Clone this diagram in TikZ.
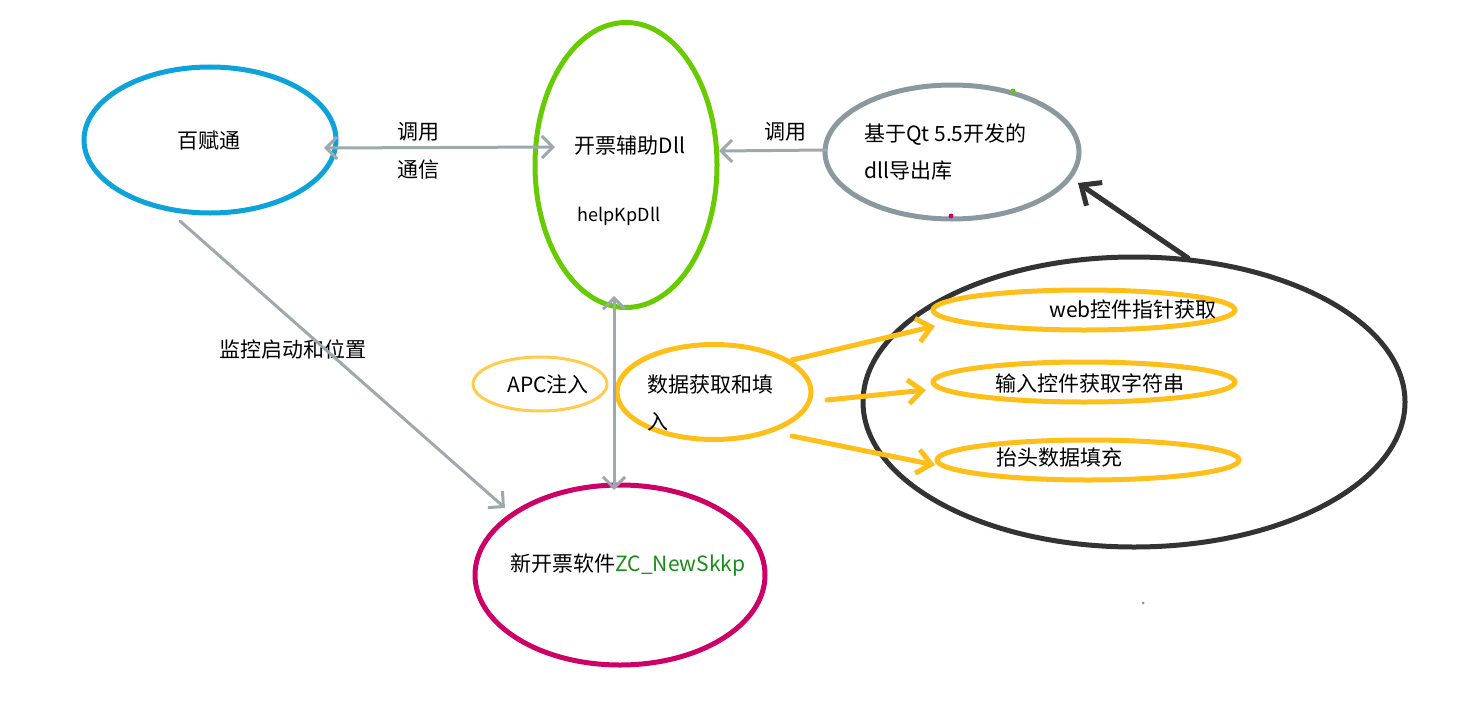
\documentclass[tikz,border=0pt]{standalone}
\usepackage{fontspec}
\setmainfont{Noto Sans CJK SC}
\usetikzlibrary{shapes.geometric,arrows.meta}
\definecolor{cblue}{HTML}{0BA3D9}
\definecolor{cgreen}{HTML}{66CC00}
\definecolor{cgray}{HTML}{8A999F}
\definecolor{cgrayarr}{HTML}{9EA9AD}
\definecolor{cblack}{HTML}{333333}
\definecolor{cyel}{HTML}{FFBF1A}
\definecolor{clyel}{HTML}{FFCC4D}
\definecolor{cmag}{HTML}{CC0066}
\definecolor{cdkgreen}{HTML}{1A8C1A}
\tikzset{
  oval/.style={ellipse,draw,inner sep=0pt,line width=5pt},
  lbl/.style={inner sep=0pt,font=\fontsize{21}{37}\selectfont,text=black},
  grayarrow/.style={draw=cgrayarr,line width=3pt,line cap=round,
     arrows={-Straight Barb[length=11pt,width=22pt,line width=3pt]}},
  grayboth/.style={grayarrow,arrows={Straight Barb[length=11pt,width=22pt,line width=3pt]-Straight Barb[length=11pt,width=22pt,line width=3pt]}},
  yelarrow/.style={draw=cyel,line width=5pt,line cap=round,
     arrows={-Straight Barb[length=14pt,width=24pt,line width=5pt]}},
  blkarrow/.style={draw=cblack,line width=5pt,line cap=round,
     arrows={-Straight Barb[length=16pt,width=28pt,line width=5pt]}},
}
\begin{document}
\begin{tikzpicture}[x=1pt,y=-1pt]
\useasboundingbox[fill=white] (0,0) rectangle (1482,709);
% ellipses
\node[oval,draw=cblue,minimum width=252pt,minimum height=146pt] (bft) at (210,140) {};
\node[oval,draw=cgreen,minimum width=182pt,minimum height=285pt] (kp) at (626,165) {};
\node[oval,draw=cgray,minimum width=254pt,minimum height=134pt] (qt) at (952,152) {};
\node[oval,draw=cblack,minimum width=542pt,minimum height=290pt] (big) at (1134,402) {};
\node[oval,draw=cyel,minimum width=302pt,minimum height=40pt] (e1) at (1084,310) {};
\node[oval,draw=cyel,minimum width=302pt,minimum height=40pt] (e2) at (1084,382) {};
\node[oval,draw=cyel,minimum width=302pt,minimum height=40pt] (e3) at (1088,460) {};
\node[oval,draw=clyel,line width=3pt,minimum width=134pt,minimum height=54pt] (apc) at (540,384) {};
\node[oval,draw=cyel,minimum width=194pt,minimum height=95pt] (sj) at (714,392) {};
\node[oval,draw=cmag,minimum width=290pt,minimum height=180pt] (xkp) at (620,575) {};
% tiny dots
\fill[cgreen] (1013,91) circle (2.5pt);
\fill[cmag] (951,216) circle (2.5pt);
\fill[cgray] (1143,603) circle (1.5pt);
% labels
\node[lbl] (tbft) at (209,141) {百赋通};
\node[lbl] (tkp) at (630,146) {开票辅助Dll};
\node[lbl,font=\fontsize{18}{20}\selectfont] (thelp) at (619,216) {helpKpDll};
\node[lbl,align=left,anchor=west] (tqt) at (864,152) {基于Qt 5.5开发的\\dll导出库};
\node[lbl] (tapc) at (548,384) {APC注入};
\node[lbl,align=left,anchor=west] (tsj) at (647,403) {数据获取和填\\入};
\node[lbl] (te1) at (1133,310) {web控件指针获取};
\node[lbl] (te2) at (1090,383) {输入控件获取字符串};
\node[lbl] (te3) at (1059,458) {抬头数据填充};
\node[lbl] (txkp) at (628,565) {新开票软件\textcolor{cdkgreen}{ZC\_NewSkkp}};
\node[lbl] (tcall1) at (418,132) {调用};
\node[lbl] (tcomm) at (418,170) {通信};
\node[lbl] (tcall2) at (785,132) {调用};
\node[lbl] (tmon) at (293,349) {监控启动和位置};
% connector end points
\coordinate (a1) at (324,148);
\coordinate (a2) at (555,147);
\coordinate (b1) at (826,150);
\coordinate (b2) at (719,151);
\coordinate (c1) at (614,296);
\coordinate (c2) at (614,490);
\coordinate (d1) at (180,221);
\coordinate (d2) at (505,508);
\coordinate (f1) at (1188,258);
\coordinate (f2) at (1078,183);
\coordinate (g1) at (792,360);
\coordinate (g2) at (935,326);
\coordinate (h1) at (827,400);
\coordinate (h2) at (926,390);
\coordinate (i1) at (792,436);
\coordinate (i2) at (935,465);
% connectors
\draw[grayboth] (a1) -- (a2);
\draw[grayarrow] (b1) -- (b2);
\draw[grayboth] (c1) -- (c2);
\draw[grayarrow] (d1) -- (d2);
\draw[blkarrow] (f1) -- (f2);
\draw[yelarrow] (g1) -- (g2);
\draw[yelarrow] (h1) -- (h2);
\draw[yelarrow] (i1) -- (i2);
\end{tikzpicture}
\end{document}
